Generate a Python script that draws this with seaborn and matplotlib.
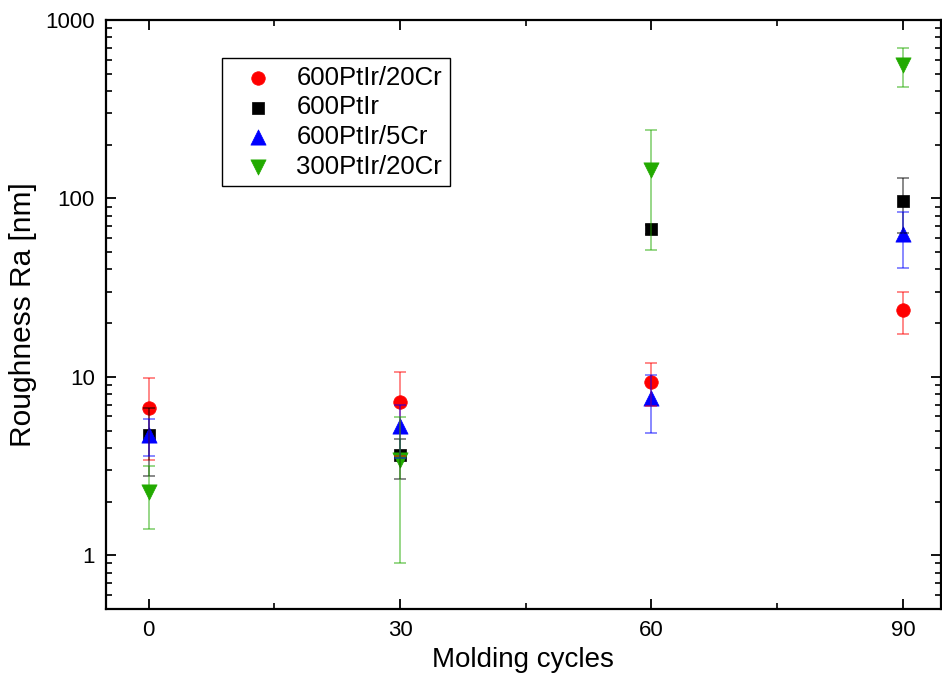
import numpy as np
import pandas as pd
import matplotlib
matplotlib.use("Agg")
import matplotlib.pyplot as plt
from matplotlib.ticker import LogLocator, NullFormatter, FixedLocator, FuncFormatter
import seaborn as sns

# ---- data ----
cycles = [0, 30, 60, 90]
series_names = ["600PtIr/20Cr", "600PtIr", "600PtIr/5Cr", "300PtIr/20Cr"]

ra_600_20cr = [6.7, 7.2, 9.4, 23.7]
lo_600_20cr = [3.44, 3.6, 6.9, 17.3]
hi_600_20cr = [9.9, 10.7, 11.9, 30.0]

ra_600 = [4.75, 3.67, 67.0, 97.0]
lo_600 = [2.77, 2.69, 63.0, 64.0]
hi_600 = [6.7, 4.48, 71.0, 131.0]

ra_600_5cr = [4.75, 5.28, 7.6, 63.5]
lo_600_5cr = [3.62, 3.5, 4.85, 40.8]
hi_600_5cr = [5.8, 7.0, 10.2, 84.2]

ra_300_20cr = [2.26, 3.44, 145.0, 558.0]
lo_300_20cr = [1.41, 0.90, 51.7, 422.0]
hi_300_20cr = [3.18, 5.93, 243.0, 695.0]

values = [ra_600_20cr, ra_600, ra_600_5cr, ra_300_20cr]
lows = [lo_600_20cr, lo_600, lo_600_5cr, lo_300_20cr]
highs = [hi_600_20cr, hi_600, hi_600_5cr, hi_300_20cr]

colors = ["#FF0000", "#000000", "#0000FF", "#22AA00"]
markers = ["o", "s", "^", "v"]
msizes = [95, 72, 120, 120]

rows = []
for name, v, lo, hi in zip(series_names, values, lows, highs):
    for x, y, l, h in zip(cycles, v, lo, hi):
        rows.append({"cycles": x, "ra": y, "lo": l, "hi": h, "series": name})
df = pd.DataFrame(rows)

# ---- plot ----
sns.set_theme(style="ticks")
plt.rcParams["font.family"] = ["Liberation Sans", "DejaVu Sans"]
plt.rcParams["text.color"] = "black"
plt.rcParams["axes.labelcolor"] = "black"
plt.rcParams["xtick.color"] = "black"
plt.rcParams["ytick.color"] = "black"

fig = plt.figure(figsize=(9.42, 6.77), dpi=100)
ax = fig.add_axes([0.1125, 0.1004, 0.886, 0.870])

for name, c, m, s in zip(series_names, colors, markers, msizes):
    d = df[df["series"] == name]
    sns.scatterplot(data=d, x="cycles", y="ra", ax=ax, color=c, marker=m, s=s,
                    edgecolor=c, linewidth=0.5, label=name, zorder=2)

for name, c in zip(series_names, colors):
    d = df[df["series"] == name]
    yerr = np.vstack([d["ra"] - d["lo"], d["hi"] - d["ra"]])
    ax.errorbar(d["cycles"], d["ra"], yerr=yerr, fmt="none", ecolor=c,
                alpha=0.5, elinewidth=1.3, capsize=4.5, capthick=1.3, zorder=3)

ax.set_yscale("log")
ax.set_ylim(0.5, 1000)
ax.set_xlim(-5.1, 94.5)

ax.xaxis.set_major_locator(FixedLocator(cycles))
ax.xaxis.set_minor_locator(FixedLocator([15, 45, 75]))
ax.yaxis.set_major_locator(LogLocator(base=10, numticks=10))
ax.yaxis.set_minor_locator(LogLocator(base=10, subs=np.arange(2, 10), numticks=20))
ax.yaxis.set_minor_formatter(NullFormatter())
ax.yaxis.set_major_formatter(FuncFormatter(lambda v, p: f"{v:g}"))

ax.tick_params(which="both", direction="in", top=True, right=True, colors="black",
               labelsize=16)
ax.tick_params(which="major", length=7, width=1.3, pad=8)
ax.tick_params(which="minor", length=4, width=1.2)
for sp in ax.spines.values():
    sp.set_visible(True)
    sp.set_linewidth(1.6)
    sp.set_color("black")

ax.set_xlabel("Molding cycles", fontsize=20, labelpad=4)
ax.set_ylabel("Roughness Ra [nm]", fontsize=21.5, labelpad=6)
ax.set_facecolor("white")

leg = ax.legend(loc="upper left", bbox_to_anchor=(0.139, 0.9355), borderaxespad=0,
                fancybox=False, frameon=True, edgecolor="black", fontsize=18.5,
                handletextpad=0.4, borderpad=0.3, labelspacing=0.22, handlelength=2.2)
leg.get_frame().set_linewidth(1.0)
leg.get_frame().set_alpha(1)
for t in leg.get_texts():
    t.set_color("black")

fig.savefig("out.png", dpi=100, facecolor="white")
